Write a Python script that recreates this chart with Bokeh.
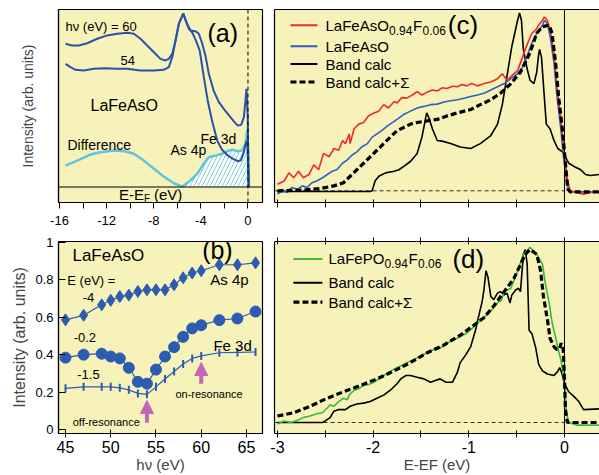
import math
from bokeh.plotting import figure
from bokeh.layouts import column, row
from bokeh.models import Range1d, FixedTicker, Span, Arrow, NormalHead, LinearAxis
from bokeh.core.properties import value
from bokeh.embed import file_html
from bokeh.resources import INLINE

# ---------------- data ----------------
# panel (a): photoemission spectra, E-EF (eV) vs intensity
A_X60 = [-15.49, -14.92, -14.36, -13.65, -12.80, -11.95, -11.10, -10.25, -9.69, -9.12, -8.56, -7.99,
         -7.43, -7.00, -6.72, -6.43, -6.15, -5.87, -5.50, -5.16, -4.88, -4.45, -4.17, -3.89, -3.61,
         -3.33, -2.90, -2.48, -2.05, -1.63, -1.20, -0.86, -0.58, -0.35, -0.21, -0.13, -0.02, 0.03, 0.06]
A_Y60 = [0.807, 0.797, 0.797, 0.810, 0.835, 0.854, 0.863, 0.869, 0.863, 0.835, 0.797, 0.759,
         0.722, 0.713, 0.722, 0.750, 0.825, 0.919, 0.978, 0.919, 0.882, 0.878, 0.863, 0.810, 0.740,
         0.640, 0.540, 0.480, 0.440, 0.405, 0.370, 0.346, 0.350, 0.393, 0.487, 0.553, 0.400, 0.100, 0.0]
A_X54 = [-15.49, -15.07, -14.64, -13.94, -13.09, -12.24, -11.10, -10.25, -9.12, -7.99, -7.15, -6.72,
         -6.43, -6.15, -5.87, -5.50, -5.30, -5.02, -4.74, -4.45, -4.10, -3.75, -3.40, -3.04, -2.60,
         -2.20, -1.76, -1.30, -0.85, -0.60, -0.35, -0.21, -0.07, 0.02, 0.08]
A_Y54 = [0.694, 0.675, 0.660, 0.656, 0.666, 0.669, 0.666, 0.666, 0.656, 0.656, 0.660, 0.675,
         0.731, 0.825, 0.919, 0.978, 0.938, 0.891, 0.872, 0.830, 0.770, 0.620, 0.480, 0.370, 0.260,
         0.210, 0.180, 0.160, 0.145, 0.150, 0.196, 0.243, 0.262, 0.110, 0.0]
A_XD = [-15.49, -14.50, -13.37, -12.52, -11.39, -10.54, -9.69, -8.84, -7.99, -7.15, -6.30, -5.58,
        -4.88, -4.31, -3.75, -3.33, -2.76, -2.19, -1.76, -1.34, -0.92, -0.49, -0.21, -0.07, 0.02, 0.08]
A_YD = [0.121, 0.149, 0.183, 0.196, 0.206, 0.202, 0.187, 0.149, 0.103, 0.059, 0.021, 0.003,
        0.037, 0.074, 0.131, 0.168, 0.177, 0.187, 0.202, 0.210, 0.202, 0.206, 0.243, 0.318, 0.206, 0.0]
A_XTICKS = [-16, -12, -8, -4, 0]
A_XMINOR = [-14, -10, -6, -2]

# panel (b): intensity vs photon energy
B_HV = [45, 47, 49, 50, 51, 52, 53, 54, 55, 56, 57, 58, 59, 60, 62, 64, 66]
B_AS4P = [0.586, 0.610, 0.666, 0.690, 0.710, 0.718, 0.737, 0.746, 0.746, 0.746, 0.773, 0.810,
          0.836, 0.848, 0.880, 0.880, 0.890]
B_FE02 = [0.384, 0.400, 0.405, 0.390, 0.380, 0.330, 0.255, 0.245, 0.320, 0.390, 0.440, 0.495,
          0.540, 0.557, 0.584, 0.593, 0.630]
B_FE15 = [0.220, 0.228, 0.228, 0.228, 0.223, 0.212, 0.193, 0.188, 0.228, 0.270, 0.310, 0.350,
          0.380, 0.393, 0.410, 0.412, 0.414]
B_ARROW_HV = [54, 60]
B_XTICKS = [45, 50, 55, 60, 65]
B_YTICKS = [0, 0.2, 0.4, 0.6, 0.8, 1.0]

# panel (c)
C_RED_X = [-3.00, -2.93, -2.88, -2.83, -2.78, -2.73, -2.67, -2.62, -2.57, -2.52, -2.46, -2.41, -2.36,
           -2.32, -2.29, -2.25, -2.24, -2.20, -2.15, -2.10, -2.05, -1.99, -1.94, -1.89, -1.84, -1.78,
           -1.75, -1.70, -1.65, -1.59, -1.54, -1.49, -1.44, -1.38, -1.33, -1.28, -1.23, -1.17, -1.12,
           -1.07, -1.02, -0.97, -0.91, -0.84, -0.77, -0.70, -0.65, -0.60, -0.55, -0.49, -0.44, -0.41,
           -0.37, -0.34, -0.30, -0.27, -0.23, -0.21, -0.18, -0.15, -0.11, -0.08, -0.04, -0.01, 0.03,
           0.06, 0.13, 0.20, 0.27, 0.36]
C_RED_Y = [0.037, 0.056, 0.102, 0.074, 0.111, 0.074, 0.093, 0.148, 0.120, 0.213, 0.194, 0.241, 0.231,
           0.287, 0.269, 0.324, 0.269, 0.352, 0.380, 0.389, 0.426, 0.444, 0.454, 0.491, 0.472, 0.509,
           0.500, 0.531, 0.528, 0.546, 0.565, 0.546, 0.561, 0.574, 0.569, 0.587, 0.583, 0.596, 0.593,
           0.606, 0.598, 0.611, 0.598, 0.611, 0.620, 0.639, 0.667, 0.630, 0.657, 0.685, 0.759, 0.806,
           0.861, 0.898, 0.917, 0.944, 0.972, 0.991, 0.972, 0.917, 0.787, 0.602, 0.417, 0.250, 0.065,
           0.0, -0.009, -0.019, -0.009, -0.006]
C_BLUE_X = [-3.00, -2.95, -2.90, -2.85, -2.79, -2.74, -2.69, -2.64, -2.59, -2.53, -2.48, -2.43, -2.38,
            -2.32, -2.27, -2.22, -2.17, -2.12, -2.06, -2.01, -1.96, -1.91, -1.85, -1.80, -1.75, -1.68,
            -1.61, -1.54, -1.47, -1.40, -1.33, -1.26, -1.19, -1.12, -1.05, -0.98, -0.91, -0.84, -0.77,
            -0.70, -0.63, -0.56, -0.49, -0.44, -0.39, -0.34, -0.29, -0.23, -0.21, -0.18, -0.15, -0.11,
            -0.08, -0.04, -0.01, 0.03, 0.06, 0.36]
C_BLUE_Y = [-0.019, 0.0, -0.009, 0.019, 0.009, 0.028, 0.019, 0.046, 0.056, 0.074, 0.093, 0.111, 0.120,
            0.157, 0.176, 0.204, 0.222, 0.250, 0.269, 0.306, 0.324, 0.343, 0.370, 0.389, 0.407, 0.435,
            0.454, 0.472, 0.481, 0.491, 0.494, 0.506, 0.513, 0.519, 0.528, 0.537, 0.546, 0.556, 0.574,
            0.593, 0.611, 0.639, 0.667, 0.704, 0.769, 0.843, 0.898, 0.944, 0.972, 0.954, 0.880, 0.731,
            0.546, 0.361, 0.194, 0.028, -0.006, -0.006]
C_BAND_X = [-3.00, -2.03, -2.01, -1.98, -1.94, -1.87, -1.78, -1.73, -1.68, -1.61, -1.54, -1.49, -1.45,
            -1.44, -1.42, -1.38, -1.33, -1.28, -1.19, -1.09, -0.98, -0.88, -0.77, -0.70, -0.65, -0.60,
            -0.55, -0.49, -0.47, -0.45, -0.43, -0.39, -0.36, -0.32, -0.29, -0.27, -0.26, -0.24, -0.21,
            -0.19, -0.15, -0.11, -0.07, -0.02, 0.01, 0.045, 0.10, 0.17, 0.22, 0.27, 0.36]
C_BAND_Y = [-0.004, -0.004, 0.0, 0.056, 0.083, 0.102, 0.111, 0.120, 0.139, 0.167, 0.213, 0.306, 0.417,
            0.444, 0.420, 0.352, 0.287, 0.283, 0.269, 0.250, 0.241, 0.269, 0.315, 0.380, 0.491, 0.657,
            0.824, 0.972, 1.013, 0.972, 0.806, 0.694, 0.630, 0.611, 0.676, 0.778, 0.806, 0.759, 0.528,
            0.380, 0.352, 0.287, 0.241, 0.222, 0.194, 0.157, 0.139, 0.120, 0.093, 0.087, 0.093]
C_SIG_X = [-3.00, -2.73, -2.55, -2.41, -2.31, -2.24, -2.17, -2.10, -2.03, -1.96, -1.89, -1.82, -1.75,
           -1.68, -1.61, -1.54, -1.44, -1.33, -1.23, -1.12, -0.98, -0.88, -0.77, -0.67, -0.56, -0.46,
           -0.36, -0.29, -0.23, -0.16, -0.13, -0.09, -0.06, -0.02, 0.01, 0.035, 0.06, 0.36]
C_SIG_Y = [0.0, 0.004, 0.013, 0.028, 0.046, 0.083, 0.120, 0.157, 0.194, 0.231, 0.269, 0.306, 0.343,
           0.361, 0.380, 0.389, 0.398, 0.407, 0.426, 0.444, 0.463, 0.491, 0.519, 0.556, 0.611, 0.676,
           0.787, 0.898, 0.935, 0.944, 0.898, 0.713, 0.528, 0.343, 0.157, 0.009, -0.006, -0.006]

# panel (d)
D_GRN_X = [-3.00, -2.93, -2.86, -2.79, -2.73, -2.66, -2.59, -2.53, -2.48, -2.45, -2.41, -2.36, -2.31,
           -2.27, -2.25, -2.20, -2.15, -2.10, -2.05, -1.99, -1.94, -1.89, -1.84, -1.78, -1.71, -1.65,
           -1.57, -1.51, -1.44, -1.37, -1.30, -1.23, -1.16, -1.09, -1.02, -0.95, -0.90, -0.84, -0.77,
           -0.70, -0.66, -0.63, -0.56, -0.49, -0.43, -0.36, -0.29, -0.23, -0.20, -0.16, -0.13, -0.09,
           -0.06, -0.035, -0.014, 0.003, 0.02, 0.045, 0.13, 0.36]
D_GRN_Y = [-0.009, 0.009, 0.0, 0.013, 0.028, 0.037, 0.050, 0.056, 0.083, 0.102, 0.093, 0.120, 0.139,
           0.130, 0.157, 0.185, 0.194, 0.213, 0.217, 0.231, 0.250, 0.269, 0.287, 0.306, 0.324, 0.343,
           0.361, 0.380, 0.398, 0.417, 0.426, 0.454, 0.472, 0.491, 0.513, 0.546, 0.574, 0.602, 0.639,
           0.685, 0.700, 0.750, 0.769, 0.870, 0.963, 1.004, 0.963, 0.907, 0.796, 0.685, 0.574, 0.481,
           0.407, 0.352, 0.278, 0.222, 0.056, 0.0, -0.015, -0.015]
D_BAND_X = [-3.00, -2.53, -2.50, -2.45, -2.41, -2.36, -2.29, -2.24, -2.17, -2.10, -2.03, -1.96, -1.89,
            -1.82, -1.75, -1.71, -1.66, -1.61, -1.54, -1.47, -1.40, -1.35, -1.30, -1.24, -1.17, -1.12,
            -1.09, -1.03, -0.98, -0.93, -0.90, -0.86, -0.84, -0.82, -0.80, -0.77, -0.74, -0.70, -0.67,
            -0.63, -0.60, -0.57, -0.55, -0.51, -0.48, -0.46, -0.43, -0.41, -0.39, -0.37, -0.34, -0.30,
            -0.27, -0.23, -0.18, -0.11, -0.07, -0.05, -0.024, 0.0, 0.045, 0.10, 0.15, 0.20, 0.36]
D_BAND_Y = [0.0, 0.0, 0.009, 0.028, 0.065, 0.074, 0.074, 0.093, 0.106, 0.111, 0.120, 0.139, 0.157,
            0.185, 0.222, 0.250, 0.269, 0.269, 0.259, 0.250, 0.231, 0.241, 0.250, 0.231, 0.231, 0.287,
            0.343, 0.389, 0.435, 0.528, 0.602, 0.694, 0.769, 0.870, 0.833, 0.722, 0.704, 0.741, 0.750,
            0.731, 0.741, 0.685, 0.731, 0.759, 0.769, 0.750, 0.963, 0.991, 0.907, 0.528, 0.509, 0.426,
            0.333, 0.296, 0.278, 0.269, 0.293, 0.315, 0.278, 0.222, 0.176, 0.148, 0.120, 0.074, 0.078]
D_SIG_X = [-3.00, -2.83, -2.66, -2.48, -2.31, -2.13, -1.96, -1.78, -1.61, -1.44, -1.26, -1.09, -0.95,
           -0.84, -0.74, -0.63, -0.53, -0.41, -0.36, -0.29, -0.25, -0.22, -0.18, -0.15, -0.11, -0.08,
           -0.05, -0.035, -0.014, 0.0, 0.01, 0.03, 0.36]
D_SIG_Y = [0.037, 0.056, 0.093, 0.139, 0.176, 0.213, 0.250, 0.296, 0.343, 0.398, 0.444, 0.500, 0.556,
           0.602, 0.667, 0.750, 0.824, 0.963, 0.991, 0.963, 0.870, 0.722, 0.593, 0.481, 0.435, 0.417,
           0.426, 0.454, 0.426, 0.259, 0.074, 0.0, 0.0]
CD_XTICKS = [-3, -2, -1, 0]
CD_MINOR = [-2.5, -1.5, -0.5]
BASE_X = [-3.03, 0.0]
BASE_Y = [0.0, 0.0]

# ---------------- style ----------------
FONT = "Liberation Sans"
BG = "#f6f2b9"
DBLUE = "#2a52a8"
CYAN = "#5fc4dd"
MBLUE = "#2b5cb0"
RED = "#ee2a2a"
LBLUE = "#2f5fbf"
GREEN = "#3cb83c"
MAG = "#c466b8"


def plain_labels(ticks):
    # ASCII hyphen for negatives, as in the original
    return {t: ("%g" % t) for t in ticks}


def style_axis(ax):
    ax.axis_line_color = "black"
    ax.axis_line_width = 1.2
    ax.major_tick_line_color = "black"
    ax.minor_tick_line_color = "black"
    ax.major_label_text_font = FONT
    ax.axis_label_text_font = FONT
    ax.axis_label_text_font_style = "normal"
    ax.major_label_text_color = "black"


def base_fig(w, h, xr, yr, bl, br, bt, bb, outline=True):
    p = figure(width=w, height=h, x_range=Range1d(*xr), y_range=Range1d(*yr),
               output_backend="svg", toolbar_location=None,
               min_border_left=bl, min_border_right=br, min_border_top=bt, min_border_bottom=bb,
               background_fill_color=BG, border_fill_color="white")
    p.grid.visible = False
    p.outline_line_color = "black" if outline else None
    p.outline_line_width = 1.2
    for ax in p.axis:
        style_axis(ax)
    return p


def tick_only_axis(ax, minor, tin, tout):
    # ticks without labels: positions drawn as (unlabelled) minor ticks
    ax.ticker = FixedTicker(ticks=[], minor_ticks=minor)
    ax.major_tick_out = 0
    ax.major_tick_in = 0
    ax.minor_tick_in = tin
    ax.minor_tick_out = tout
    ax.major_label_standoff = 0


def txt(p, x, y, s, size, align="left", color="black", xo=0, yo=0):
    p.text(x=[x], y=[y], text=[s], text_font=value(FONT), text_font_size=f"{size}px",
           text_align=align, text_baseline="middle", text_color=color, x_offset=xo, y_offset=yo)


# ---------------- panel (a) ----------------
pa = base_fig(268, 230, (-16.085, 1.233), (-0.0873, 1.0), 58, 6, 9, 28)
xa = pa.xaxis[0]
xa.ticker = FixedTicker(ticks=A_XTICKS, minor_ticks=A_XMINOR)
xa.major_label_overrides = plain_labels(A_XTICKS)
xa.major_tick_in = 0
xa.major_tick_out = 6
xa.minor_tick_in = 0
xa.minor_tick_out = 6
xa.major_label_text_font_size = "13px"
xa.major_label_standoff = 7
ya = pa.yaxis[0]
tick_only_axis(ya, [], 0, 0)
ya.axis_label = "Intensity (arb. units)"
ya.axis_label_text_font_size = "14px"
ya.axis_label_standoff = 23

hx = [x for x in A_XD if x >= -5.6]
hy = [y for x, y in zip(A_XD, A_YD) if x >= -5.6]
pa.varea(x=hx, y1=0, y2=hy, fill_color="white", fill_alpha=0.9,
         hatch_pattern="/", hatch_color=CYAN, hatch_weight=0.8, hatch_scale=8)
pa.add_layout(Span(location=0, dimension="width", line_color="black", line_width=1.2))
pa.add_layout(Span(location=0, dimension="height", line_color="black", line_width=1, line_dash="4 3"))
pa.line(A_XD, A_YD, line_color=CYAN, line_width=2.5)
pa.line(A_X54, A_Y54, line_color=DBLUE, line_width=2)
pa.line(A_X60, A_Y60, line_color=DBLUE, line_width=2)

txt(pa, -15.49, 0.904, "hν (eV) = 60", 13)
txt(pa, -10.82, 0.713, "54", 13)
txt(pa, -13.37, 0.459, "LaFeAsO", 16)
txt(pa, -15.32, 0.234, "Difference", 14)
txt(pa, -6.58, 0.206, "As 4p", 14)
txt(pa, -4.03, 0.273, "Fe 3d", 14)
txt(pa, -3.44, 0.870, "(a)", 25)
txt(pa, -10.95, -0.045, "E-E", 15)
txt(pa, -10.95, -0.045, "F", 10, xo=25, yo=4)
txt(pa, -10.95, -0.045, "(eV)", 15, xo=35)

# ---------------- panel (b) ----------------
pb = base_fig(268, 245, (44.227, 66.77), (-0.021, 1.004), 58, 6, 11, 42)
xb = pb.xaxis[0]
xb.ticker = FixedTicker(ticks=B_XTICKS)
xb.major_tick_in = 4
xb.major_tick_out = 4
xb.minor_tick_in = 0
xb.minor_tick_out = 0
xb.major_label_text_font_size = "16px"
xb.major_label_standoff = 3
xb.axis_label = "hν (eV)"
xb.axis_label_text_font_size = "15px"
xb.axis_label_standoff = 0
yb = pb.yaxis[0]
yb.ticker = FixedTicker(ticks=B_YTICKS)
yb.major_tick_in = 7
yb.major_tick_out = 0
yb.minor_tick_in = 0
yb.minor_tick_out = 0
yb.major_label_text_font_size = "13px"
yb.major_label_standoff = 5
yb.major_label_overrides = {0: "0"}
yb.axis_label = "Intensity (arb. units)"
yb.axis_label_text_font_size = "16px"
yb.axis_label_standoff = 4

pb.line(B_HV, B_AS4P, line_color=MBLUE, line_width=1.2)
pb.scatter(B_HV, B_AS4P, marker="diamond", size=12, fill_color=MBLUE, line_color=MBLUE)
pb.line(B_HV, B_FE02, line_color=MBLUE, line_width=1.2)
pb.scatter(B_HV, B_FE02, marker="circle", size=11, fill_color=MBLUE, line_color=MBLUE)
pb.line(B_HV, B_FE15, line_color=MBLUE, line_width=1.2)
pb.scatter(B_HV, B_FE15, marker="dash", angle=math.pi / 2, size=8, line_color=MBLUE, line_width=2)

for hv, (y0, y1) in zip(B_ARROW_HV, [(0.037, 0.155), (0.245, 0.358)]):
    pb.add_layout(Arrow(end=NormalHead(size=13, fill_color=MAG, line_color=MAG),
                        x_start=hv, y_start=y0, x_end=hv, y_end=y1,
                        line_color=MAG, line_width=4))

txt(pb, 45.77, 0.929, "LaFeAsO", 17)
txt(pb, 60.1, 0.956, "(b)", 25)
txt(pb, 45.2, 0.795, "E (eV) =", 13)
txt(pb, 46.9, 0.705, "-4", 13)
txt(pb, 61.0, 0.800, "As 4p", 15)
txt(pb, 45.9, 0.49, "-0.2", 13)
txt(pb, 61.35, 0.448, "Fe 3d", 15)
txt(pb, 46.3, 0.294, "-1.5", 13)
txt(pb, 45.8, 0.043, "off-resonance", 11)
txt(pb, 57.15, 0.19, "on-resonance", 11)


# ---------------- panels (c), (d) ----------------
def cd_fig(h, yr, bt, bb, top_ticks, labels):
    p = base_fig(331, h, (-3.031, 0.366), yr, 6, 0, bt, bb, outline=False)
    tick_only_axis(p.yaxis[0], [], 0, 0)
    xx = p.xaxis[0]
    if labels:
        xx.ticker = FixedTicker(ticks=CD_XTICKS, minor_ticks=CD_MINOR)
        xx.major_label_overrides = plain_labels(CD_XTICKS)
        xx.major_tick_in = 3
        xx.major_tick_out = 4
        xx.minor_tick_in = 3
        xx.minor_tick_out = 4
        xx.major_label_text_font_size = "16px"
        xx.major_label_standoff = 3
        xx.axis_label = "E-EF (eV)"
        xx.axis_label_text_font_size = "15px"
        xx.axis_label_standoff = 0
    else:
        tick_only_axis(xx, CD_XTICKS + CD_MINOR, 3, 5)
    top = LinearAxis()
    style_axis(top)
    if top_ticks:
        tick_only_axis(top, CD_XTICKS + CD_MINOR, 3, 4)
    else:
        tick_only_axis(top, [], 0, 0)
    p.add_layout(top, "above")
    p.add_layout(Span(location=0, dimension="height", line_color="black", line_width=1))
    p.line(BASE_X, BASE_Y, line_color="#333333", line_width=1, line_dash="4 3")
    return p


pc = cd_fig(230, (-0.0667, 1.0333), 9, 23, False, False)
pc.line(C_BAND_X, C_BAND_Y, line_color="black", line_width=1.6)
pc.line(C_BLUE_X, C_BLUE_Y, line_color=LBLUE, line_width=1.6)
pc.line(C_RED_X, C_RED_Y, line_color=RED, line_width=1.6)
pc.line(C_SIG_X, C_SIG_Y, line_color="black", line_width=3.2, line_dash="6 3")

lx0, lx1, tx = -2.864, -2.582, -2.498
for yy, col, dash, lw in [(0.944, RED, "solid", 2), (0.824, LBLUE, "solid", 2),
                          (0.722, "black", "solid", 2), (0.620, "black", "6 3", 3.2)]:
    pc.line([lx0, lx1], [yy, yy], line_color=col, line_width=lw, line_dash=dash)
txt(pc, tx, 0.944, "LaFeAsO", 15)
txt(pc, tx, 0.944, "0.94", 12, xo=63.5, yo=5)
txt(pc, tx, 0.944, "F", 15, xo=87.5)
txt(pc, tx, 0.944, "0.06", 12, xo=97, yo=5)
txt(pc, tx, 0.824, "LaFeAsO", 15)
txt(pc, tx, 0.722, "Band calc", 15)
txt(pc, tx, 0.620, "Band calc+Σ", 15)
txt(pc, -1.22, 0.944, "(c)", 26)

pd = cd_fig(245, (-0.063, 1.037), 5, 42, True, True)
pd.line(D_BAND_X, D_BAND_Y, line_color="black", line_width=1.6)
pd.line(D_GRN_X, D_GRN_Y, line_color=GREEN, line_width=1.6)
pd.line(D_SIG_X, D_SIG_Y, line_color="black", line_width=3.2, line_dash="6 3")

lx0, lx1, tx = -2.833, -2.53, -2.467
for yy, col, dash, lw in [(0.937, GREEN, "solid", 2), (0.80, "black", "solid", 2),
                          (0.69, "black", "6 3", 3.2)]:
    pd.line([lx0, lx1], [yy, yy], line_color=col, line_width=lw, line_dash=dash)
txt(pd, tx, 0.937, "LaFePO", 15)
txt(pd, tx, 0.937, "0.94", 12, xo=56, yo=5)
txt(pd, tx, 0.937, "F", 15, xo=80)
txt(pd, tx, 0.937, "0.06", 12, xo=89.5, yo=5)
txt(pd, tx, 0.80, "Band calc", 15)
txt(pd, tx, 0.69, "Band calc+Σ", 15)
txt(pd, -1.171, 0.937, "(d)", 26)

layout = column(row(pa, pc), row(pb, pd))
open("out.html", "w").write(file_html(layout, INLINE))
